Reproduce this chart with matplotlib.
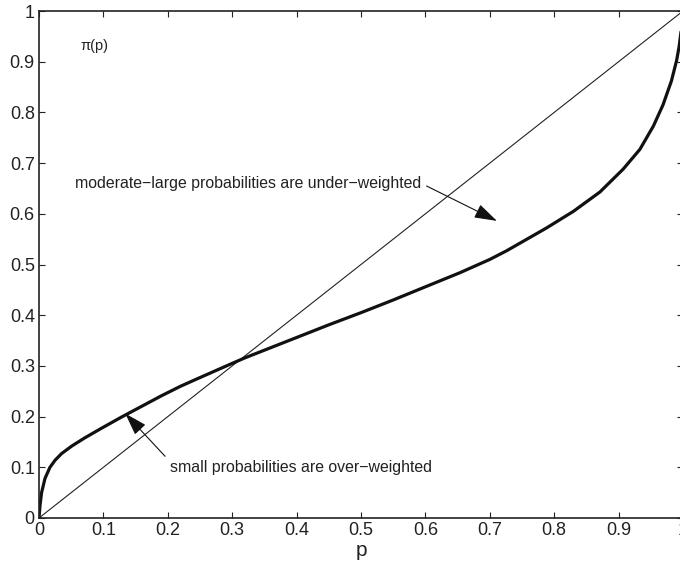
import matplotlib
matplotlib.use("Agg")
import matplotlib.pyplot as plt

# Probability weighting curve
p_vals = [0, 0.0016, 0.004, 0.0093, 0.017, 0.025, 0.035, 0.051, 0.071, 0.097,
          0.128, 0.159, 0.19, 0.22, 0.25, 0.3, 0.32, 0.35, 0.4, 0.45, 0.5,
          0.55, 0.6, 0.654, 0.7, 0.726, 0.788, 0.83, 0.871, 0.907, 0.933,
          0.954, 0.969, 0.982, 0.99, 0.994, 0.997, 1.0]
w_vals = [0, 0.025, 0.050, 0.078, 0.100, 0.114, 0.127, 0.142, 0.158, 0.177,
          0.199, 0.220, 0.241, 0.260, 0.277, 0.305, 0.316, 0.331, 0.356, 0.381, 0.405,
          0.430, 0.456, 0.484, 0.510, 0.527, 0.572, 0.605, 0.643, 0.688, 0.727,
          0.773, 0.815, 0.862, 0.902, 0.930, 0.960, 1.0]
diag = [0, 1]

x_ticks = [0, 0.1, 0.2, 0.3, 0.4, 0.5, 0.6, 0.7, 0.8, 0.9, 1]
x_tick_labels = ["0", "0.1", "0.2", "0.3", "0.4", "0.5", "0.6", "0.7", "0.8", "0.9", "1"]
y_ticks = x_ticks
y_tick_labels = x_tick_labels

plt.rcParams['font.family'] = ['Liberation Sans', 'DejaVu Sans']

fig = plt.figure(figsize=(6.8, 5.73), dpi=100)
ax = fig.add_axes([39/680, 55/573, 644/680, 507/573])

ax.plot(diag, diag, color='#222222', lw=0.8)
ax.plot(p_vals, w_vals, color='#111111', lw=2.3, solid_capstyle='round',
        solid_joinstyle='round')

ax.set_xlim(0, 1)
ax.set_ylim(0, 1)
ax.set_xticks(x_ticks)
ax.set_xticklabels(x_tick_labels)
ax.set_yticks(y_ticks)
ax.set_yticklabels(y_tick_labels)
ax.tick_params(direction='in', length=4, width=0.8, labelsize=13, colors='#222222',
               top=True, right=True, pad=3)
for s in ax.spines.values():
    s.set_linewidth(1.2)
    s.set_color('#222222')

ax.set_xlabel('p', fontsize=15, color='#222222', labelpad=1)

ax.text(0.064, 0.93, 'π(p)', fontsize=10.5, color='#222222', ha='left', va='center')

arrow_style = '-|>,head_length=1.0,head_width=0.32'

ax.annotate('moderate\u2212large probabilities are under\u2212weighted',
            xy=(0.711, 0.586), xytext=(0.056, 0.66),
            fontsize=11.4, color='#222222', ha='left', va='center',
            arrowprops=dict(arrowstyle=arrow_style,
                            color='#111111', lw=0.8, shrinkA=2, shrinkB=0,
                            mutation_scale=14, relpos=(1.0, 0.5)))

ax.annotate('small probabilities are over\u2212weighted',
            xy=(0.134, 0.206), xytext=(0.203, 0.100),
            fontsize=11.4, color='#222222', ha='left', va='center',
            arrowprops=dict(arrowstyle=arrow_style,
                            color='#111111', lw=0.8, shrinkA=2, shrinkB=0,
                            mutation_scale=14, relpos=(0.0, 0.9)))

fig.savefig('out.png', dpi=100)
